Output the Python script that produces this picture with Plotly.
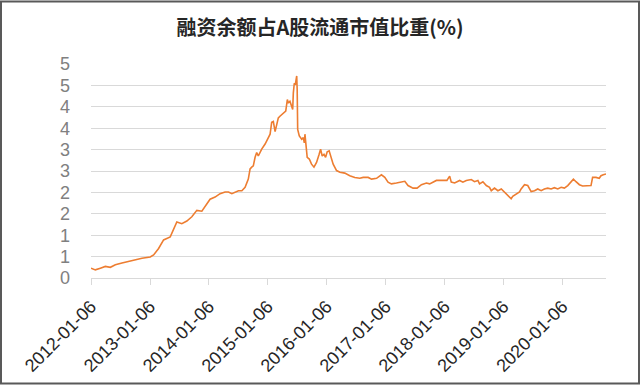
import plotly.graph_objects as go

TITLE = "融资余额占A股流通市值比重(%)"

DATES = [
    "2012-01-06", "2012-02-02", "2012-03-04", "2012-04-04", "2012-05-05", "2012-06-05",
    "2012-07-16", "2012-08-26", "2012-10-07", "2012-11-17", "2013-01-07", "2013-01-28",
    "2013-02-28", "2013-03-31", "2013-05-11", "2013-05-31", "2013-06-21", "2013-07-22",
    "2013-08-22", "2013-09-22", "2013-10-23", "2013-11-23", "2013-12-24", "2014-01-13",
    "2014-02-13", "2014-03-16", "2014-04-16", "2014-05-07", "2014-05-28", "2014-06-17",
    "2014-07-08", "2014-07-29", "2014-08-18", "2014-09-07", "2014-09-18", "2014-09-28",
    "2014-10-08", "2014-10-19", "2014-10-29", "2014-11-08", "2014-11-29", "2014-12-20",
    "2015-01-09", "2015-01-20", "2015-01-30", "2015-02-09", "2015-02-20", "2015-03-02",
    "2015-03-12", "2015-03-22", "2015-04-12", "2015-04-27", "2015-05-07", "2015-05-13",
    "2015-05-23", "2015-06-03", "2015-06-09", "2015-06-13", "2015-06-19", "2015-06-25",
    "2015-07-04", "2015-07-07", "2015-07-10", "2015-07-20", "2015-08-04", "2015-08-14",
    "2015-08-20", "2015-08-24", "2015-08-30", "2015-09-07", "2015-09-20", "2015-10-04",
    "2015-10-19", "2015-11-04", "2015-11-20", "2015-11-29", "2015-12-09", "2015-12-20",
    "2015-12-30", "2016-01-09", "2016-01-21", "2016-01-30", "2016-02-15", "2016-03-07",
    "2016-03-28", "2016-04-27", "2016-05-28", "2016-06-28", "2016-07-29", "2016-08-19",
    "2016-09-19", "2016-10-10", "2016-11-10", "2016-12-10", "2016-12-31", "2017-01-20",
    "2017-02-10", "2017-03-13", "2017-04-13", "2017-05-04", "2017-05-24", "2017-06-24",
    "2017-07-19", "2017-08-15", "2017-09-15", "2017-10-05", "2017-11-16", "2017-12-26",
    "2018-01-20", "2018-02-06", "2018-02-16", "2018-03-09", "2018-04-09", "2018-04-29",
    "2018-05-20", "2018-06-20", "2018-07-10", "2018-07-31", "2018-08-10", "2018-08-31",
    "2018-09-21", "2018-10-11", "2018-10-22", "2018-11-11", "2018-12-02", "2018-12-23",
    "2019-01-12", "2019-02-01", "2019-02-22", "2019-03-04", "2019-03-25", "2019-04-15",
    "2019-04-25", "2019-05-16", "2019-06-05", "2019-06-26", "2019-07-17", "2019-08-06",
    "2019-08-27", "2019-09-16", "2019-10-07", "2019-10-28", "2019-11-17", "2019-12-08",
    "2019-12-29", "2020-01-18", "2020-02-08", "2020-02-29", "2020-03-14", "2020-03-30",
    "2020-04-20", "2020-05-10", "2020-06-10", "2020-07-01", "2020-07-11", "2020-08-01",
    "2020-08-21", "2020-09-01", "2020-09-15", "2020-10-02",
]

RATIO = [
    0.23, 0.19, 0.23, 0.27, 0.25, 0.31,
    0.35, 0.39, 0.42, 0.46, 0.49, 0.54,
    0.69, 0.89, 0.96, 1.12, 1.31, 1.27,
    1.33, 1.43, 1.58, 1.56, 1.74, 1.84,
    1.89, 1.97, 2.01, 2.01, 1.97, 2.01,
    2.04, 2.04, 2.12, 2.31, 2.55, 2.59,
    2.62, 2.82, 2.93, 2.85, 3.01, 3.13,
    3.28, 3.36, 3.64, 3.66, 3.42, 3.55,
    3.74, 3.78, 3.86, 3.90, 4.17, 4.09,
    4.13, 3.97, 3.94, 4.32, 4.55, 4.51,
    4.72, 4.40, 3.47, 3.32, 3.24, 3.28,
    3.16, 3.36, 3.09, 2.82, 2.78, 2.66,
    2.59, 2.70, 2.89, 3.01, 2.85, 2.89,
    2.82, 2.95, 2.97, 2.85, 2.66, 2.51,
    2.47, 2.45, 2.39, 2.35, 2.33, 2.35,
    2.35, 2.31, 2.33, 2.41, 2.35, 2.24,
    2.20, 2.22, 2.24, 2.26, 2.16, 2.10,
    2.10, 2.18, 2.22, 2.20, 2.28, 2.29,
    2.28, 2.38, 2.24, 2.22, 2.28, 2.24,
    2.28, 2.30, 2.25, 2.28, 2.20, 2.25,
    2.16, 2.12, 2.04, 2.10, 2.04, 2.08,
    2.01, 1.93, 1.85, 1.91, 1.97, 2.01,
    2.08, 2.18, 2.16, 2.02, 2.04, 2.08,
    2.04, 2.08, 2.10, 2.08, 2.11, 2.08,
    2.12, 2.10, 2.16, 2.24, 2.31, 2.25,
    2.18, 2.15, 2.15, 2.16, 2.35, 2.35,
    2.33, 2.39, 2.41, 2.43,
]

X_TICKS = ["2012-01-06", "2013-01-06", "2014-01-06", "2015-01-06", "2016-01-06",
           "2017-01-06", "2018-01-06", "2019-01-06", "2020-01-06"]
Y_TICKS = [0, 0.5, 1, 1.5, 2, 2.5, 3, 3.5, 4, 4.5, 5]
Y_TICK_LABELS = ["0", "1", "1", "2", "2", "3", "3", "4", "4", "5", "5"]

W, H = 640, 388
L, R, T, B = 91, 34, 64, 108
PW, PH = W - L - R, H - T - B

fig = go.Figure()
fig.add_trace(go.Scatter(
    x=DATES, y=RATIO, mode="lines",
    line=dict(color="#ED7D31", width=1.6),
    hoverinfo="skip", showlegend=False,
))

fig.update_layout(
    width=W, height=H,
    margin=dict(l=L, r=R, t=T, b=B, pad=0),
    paper_bgcolor="white", plot_bgcolor="white",
    title=dict(text="<b>" + TITLE + "</b>", x=0.5, xref="container", xanchor="center",
               y=1 - 28 / H, yref="container", yanchor="middle",
               font=dict(family="Noto Sans CJK SC", size=20, color="#262626")),
    font=dict(family="Liberation Sans, Arial, sans-serif"),
)

fig.update_xaxes(
    type="date", range=[DATES[0], DATES[-1]],
    tickvals=X_TICKS, ticktext=X_TICKS, tickangle=-45,
    tickfont=dict(size=18, color="#262626"),
    showgrid=False, showline=True, linecolor="#D9D9D9", linewidth=1,
    ticks="outside", ticklen=6, tickcolor="#D9D9D9", tickwidth=1,
    zeroline=False, ticklabelstandoff=4,
)
fig.update_yaxes(
    range=[0, 5], tickvals=Y_TICKS, ticktext=Y_TICK_LABELS,
    tickfont=dict(size=18, color="#808080"),
    showgrid=True, gridcolor="#D9D9D9", gridwidth=1,
    showline=False, zeroline=False, ticks="", ticklabelstandoff=20,
)

# outer chart border (pixel positions converted to paper coordinates)
def px_x(p):
    return (p - L) / PW

def px_y(p):
    return (H - B - p) / PH

fig.add_shape(type="rect", xref="paper", yref="paper",
              x0=px_x(1), x1=px_x(W - 1), y0=px_y(H - 1.5), y1=px_y(1),
              line=dict(color="#595959", width=2), fillcolor="rgba(0,0,0,0)",
              layer="above")

fig.write_html(
    "out.html",
    config={"displayModeBar": False},
    post_script="document.body.style.margin='0';document.body.style.overflow='hidden';",
)
